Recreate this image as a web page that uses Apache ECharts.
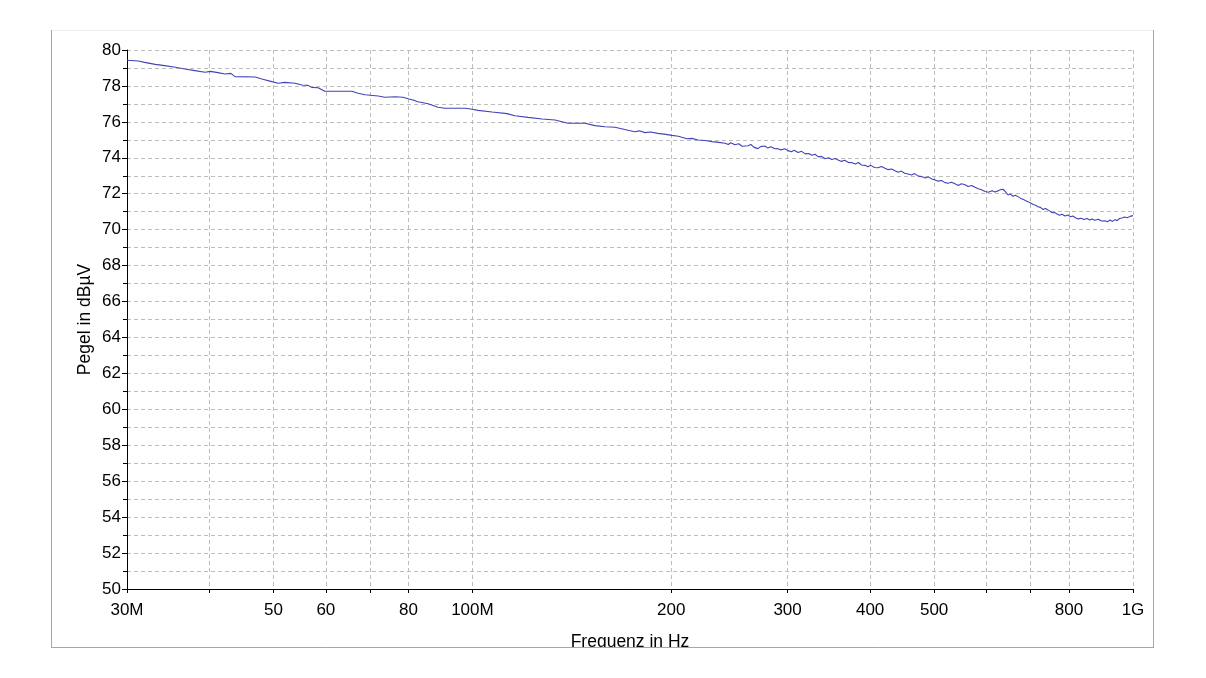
<!DOCTYPE html>
<html>
<head>
<meta charset="utf-8">
<script src="https://cdn.jsdelivr.net/npm/echarts@6/dist/echarts.min.js"></script>
<style>
html,body{margin:0;padding:0;background:#fff;}
#c{width:1206px;height:678px;}
</style>
</head>
<body>
<div id="c"></div>
<script>
// Frequency in MHz
const freqMHz = [
30,31.2,31.9,33.1,34.2,35.5,36.7,38.0,39.4,40.1,41.2,42.2,43.1,43.7,46.9,48.0,49.7,50.8,52.0,53.9,
55.2,56.4,57.1,58.4,59.8,65.7,67.1,68.8,72.0,73.7,76.4,78.5,79.9,81.3,82.7,85.7,88.7,90.9,97.5,99.9,
102.0,107.1,112.8,113.5,116.0,121.4,127.5,133.4,139.5,148.0,153.3,158.7,164.4,172.0,176.2,179,182.5,186,190.9,195,
200.5,205,211.2,215,219.5,225,230.5,236,241.2,244,246,249.7,253,256,261.3,264,267,270.5,273,277.2,
280,283,287,290.1,293,297,300.4,304,307,311.1,315,319,323,326.7,330,334,338,341.8,346,350,
354,357.7,362,366,371,375.5,380,384,388,392.9,397,401,406,411.2,416,421.3,426,431,436.3,441,
446,451,456.5,462,467,473,479.3,485,490,496,501.5,507,513,519.3,525,531,537.7,544,550,556.8,
563,570,576.5,583,590,597.0,604,611.7,618,624.7,630,635.6,641,646.8,652,658,664,669.8,676,681,
687,693.5,700,706,712,718.1,724,731,737,743.6,749,755,761,767.3,774,781,789,797.3,804,811,
818,825.5,834,843,852,860,866.8,876,886,896,907.0,915,923,931,939.2,946,954,962.4,971,980,
990,1000
];
// Level in dBµV
const levelDb = [
79.43,79.39,79.31,79.20,79.13,79.04,78.94,78.85,78.76,78.81,78.74,78.66,78.70,78.52,78.50,78.39,78.24,78.15,78.20,78.15,
78.05,78.03,77.92,77.90,77.70,77.70,77.59,77.51,77.44,77.37,77.40,77.37,77.29,77.22,77.12,77.01,76.81,76.76,76.76,76.70,
76.64,76.55,76.46,76.52,76.34,76.25,76.16,76.10,75.92,75.92,75.79,75.73,75.70,75.53,75.45,75.50,75.40,75.44,75.36,75.32,
75.25,75.20,75.06,75.08,74.99,74.96,74.90,74.86,74.81,74.74,74.84,74.73,74.78,74.64,74.67,74.74,74.58,74.51,74.62,74.66,
74.54,74.62,74.50,74.51,74.44,74.50,74.40,74.34,74.42,74.29,74.36,74.22,74.24,74.14,74.20,74.05,74.08,73.95,74.00,73.90,
73.96,73.88,73.80,73.86,73.74,73.73,73.66,73.74,73.60,73.58,73.50,73.58,73.46,73.45,73.52,73.42,73.34,73.38,73.28,73.20,
73.26,73.14,73.10,73.04,73.12,72.98,72.95,72.88,72.94,72.82,72.77,72.70,72.74,72.62,72.58,72.64,72.55,72.46,72.56,72.50,
72.40,72.46,72.36,72.28,72.22,72.12,72.08,72.17,72.10,72.16,72.22,72.25,72.12,71.93,71.98,71.86,71.92,71.84,71.74,71.70,
71.62,71.56,71.48,71.40,71.36,71.28,71.24,71.12,71.18,71.10,71.02,70.94,70.96,70.87,70.80,70.86,70.76,70.82,70.72,70.76,
70.66,70.60,70.64,70.56,70.62,70.54,70.60,70.52,70.58,70.48,70.50,70.44,70.54,70.46,70.56,70.50,70.62,70.65,70.70,70.66,
70.74,70.78
];
const xTickValues = [30,40,50,60,70,80,100,200,300,400,500,600,700,800,1000];
const xLabelValues = [30,50,60,80,100,200,300,400,500,800,1000];
const xLabelText = {30:'30M',100:'100M',1000:'1G'};
const yMin = 50, yMax = 80, yStep = 2;

const points = freqMHz.map((f, i) => [f, levelDb[i]]);
const font = "'Liberation Sans', Arial, sans-serif";
const gridDash = {color:'#bdbdbd', type:[4,3], width:1};

const chart = echarts.init(document.getElementById('c'), null, {renderer:'canvas'});
chart.setOption({
  animation:false,
  backgroundColor:'#fff',
  grid:{left:127, right:73, top:50, bottom:89, containLabel:false},
  xAxis:{
    type:'log', logBase:10, min:30, max:1000,
    name:'Frequenz in Hz', nameLocation:'middle', nameGap:44,
    nameTextStyle:{fontFamily:font, fontSize:17.5, color:'#000'},
    axisLine:{show:true, onZero:false, lineStyle:{color:'#000', width:1}},
    axisTick:{show:true, inside:false, length:4, customValues:xTickValues, lineStyle:{color:'#000'}},
    axisLabel:{show:true, customValues:xLabelValues, margin:13, fontFamily:font, fontSize:17, color:'#000',
      formatter:v => xLabelText[Math.round(v)] || String(Math.round(v))},
    splitLine:{show:true, lineStyle:gridDash},
    minorTick:{show:false}, minorSplitLine:{show:false}
  },
  yAxis:{
    type:'value', min:yMin, max:yMax, interval:yStep,
    name:'Pegel in dBµV', nameLocation:'middle', nameGap:33, nameRotate:90, nameMoveOverlap:false,
    nameTextStyle:{fontFamily:font, fontSize:17.5, color:'#000'},
    axisLine:{show:true, lineStyle:{color:'#000', width:1}},
    axisTick:{show:true, length:5, lineStyle:{color:'#000'}},
    minorTick:{show:true, splitNumber:2, length:4, lineStyle:{color:'#000'}},
    axisLabel:{margin:6, fontFamily:font, fontSize:17, color:'#000'},
    splitLine:{show:true, lineStyle:gridDash},
    minorSplitLine:{show:true, lineStyle:gridDash}
  },
  series:[{
    type:'line', data:points, showSymbol:false, symbol:'none',
    lineStyle:{color:'#4343b8', width:1.1}, z:10
  }],
  graphic:[
    {type:'rect', z:100, shape:{x:0, y:648, width:1206, height:30}, style:{fill:'#fff'}},
    {type:'line', z:101, shape:{x1:51, y1:30.5, x2:1153, y2:30.5}, style:{stroke:'#eeeeee', lineWidth:1}},
    {type:'line', z:101, shape:{x1:51.5, y1:30, x2:51.5, y2:648}, style:{stroke:'#a6a6a6', lineWidth:1}},
    {type:'line', z:101, shape:{x1:1153.5, y1:30, x2:1153.5, y2:648}, style:{stroke:'#a6a6a6', lineWidth:1}},
    {type:'line', z:101, shape:{x1:51, y1:647.5, x2:1154, y2:647.5}, style:{stroke:'#a6a6a6', lineWidth:1}}
  ]
});
</script>
</body>
</html>
